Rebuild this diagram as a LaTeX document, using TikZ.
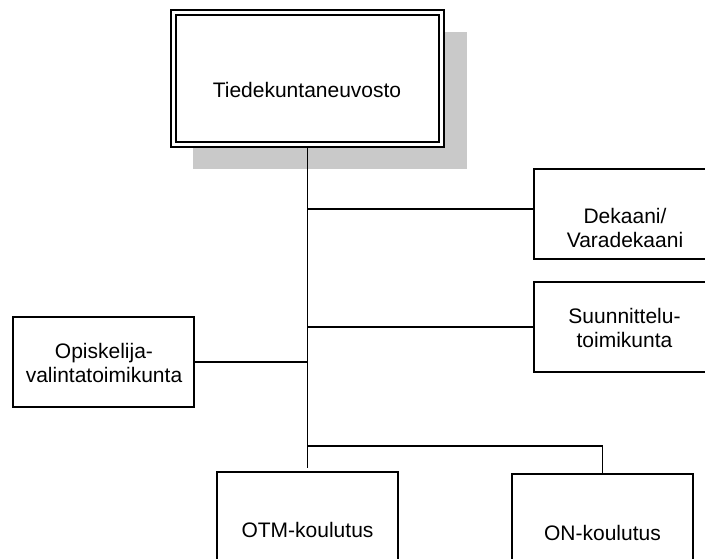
\documentclass[tikz,border=0pt]{standalone}
\usepackage{fontspec}
\setmainfont{Liberation Sans}
\usetikzlibrary{backgrounds,calc}
\begin{document}
\begin{tikzpicture}[x=1pt,y=1pt,
  every node/.style={inner sep=0pt, outer sep=0pt},
  unit/.style={draw, line width=1.3pt, fill=white, minimum width=181pt, minimum height=90pt},
  council/.style={draw, line width=1.2pt, double=white, double distance=3.8pt,
    fill=white, minimum width=268pt, minimum height=132pt},
  caption/.style={font=\fontsize{21}{24}\selectfont, align=center},
  link/.style={line width=1.4pt},
  shade/.style={fill=black!21, draw=none}
]
\useasboundingbox (0,0) rectangle (705,-559);
\clip (0,0) rectangle (705,-559);

% faculty council with its drop shadow
\node[council] (council) at (307.5,-78.5) {};
\begin{pgfonlayer}{background}
  \fill[shade] ($(council.south west)+(19.5,-24.5)$) rectangle ($(council.north east)+(25.5,-19.5)$);
\end{pgfonlayer}
\node[caption, anchor=base] (tcouncil) at (307,-98) {Tiedekuntaneuvosto};

% subordinate bodies
\node[unit] (dean) at (624.5,-214) {};
\node[caption] (tdean) at (625,-228) {Dekaani/\\Varadekaani};

\node[unit] (plan) at (624.5,-327) {};
\node[caption] (tplan) at (624.5,-327.5) {Suunnittelu-\\toimikunta};

\node[unit] (admit) at (103.5,-362) {};
\node[caption] (tadmit) at (104,-362.5) {Opiskelija-\\valintatoimikunta};

\node[unit] (otm) at (307.5,-517) {};
\node[caption, anchor=base] (totm) at (307.5,-537) {OTM-koulutus};

\node[unit] (on) at (602.5,-519) {};
\node[caption, anchor=base] (ton) at (602.5,-540) {ON-koulutus};

% junctions on the main trunk
\coordinate (jdean) at (council.south |- 0,-209);
\coordinate (jbot) at (council.south |- 0,-446);
\coordinate (trunkend) at (council.south |- 0,-468);

% connectors
\begin{pgfonlayer}{background}
  \draw[link] (council.south) -- (trunkend);
\end{pgfonlayer}
\draw[link] (jdean) -- (jdean -| dean.west);
\draw[link] (plan.west -| council.south) -- (plan.west);
\draw[link] (admit.east) -- (admit.east -| council.south);
\draw[link] (jbot) -| (on.north);
\end{tikzpicture}
\end{document}
